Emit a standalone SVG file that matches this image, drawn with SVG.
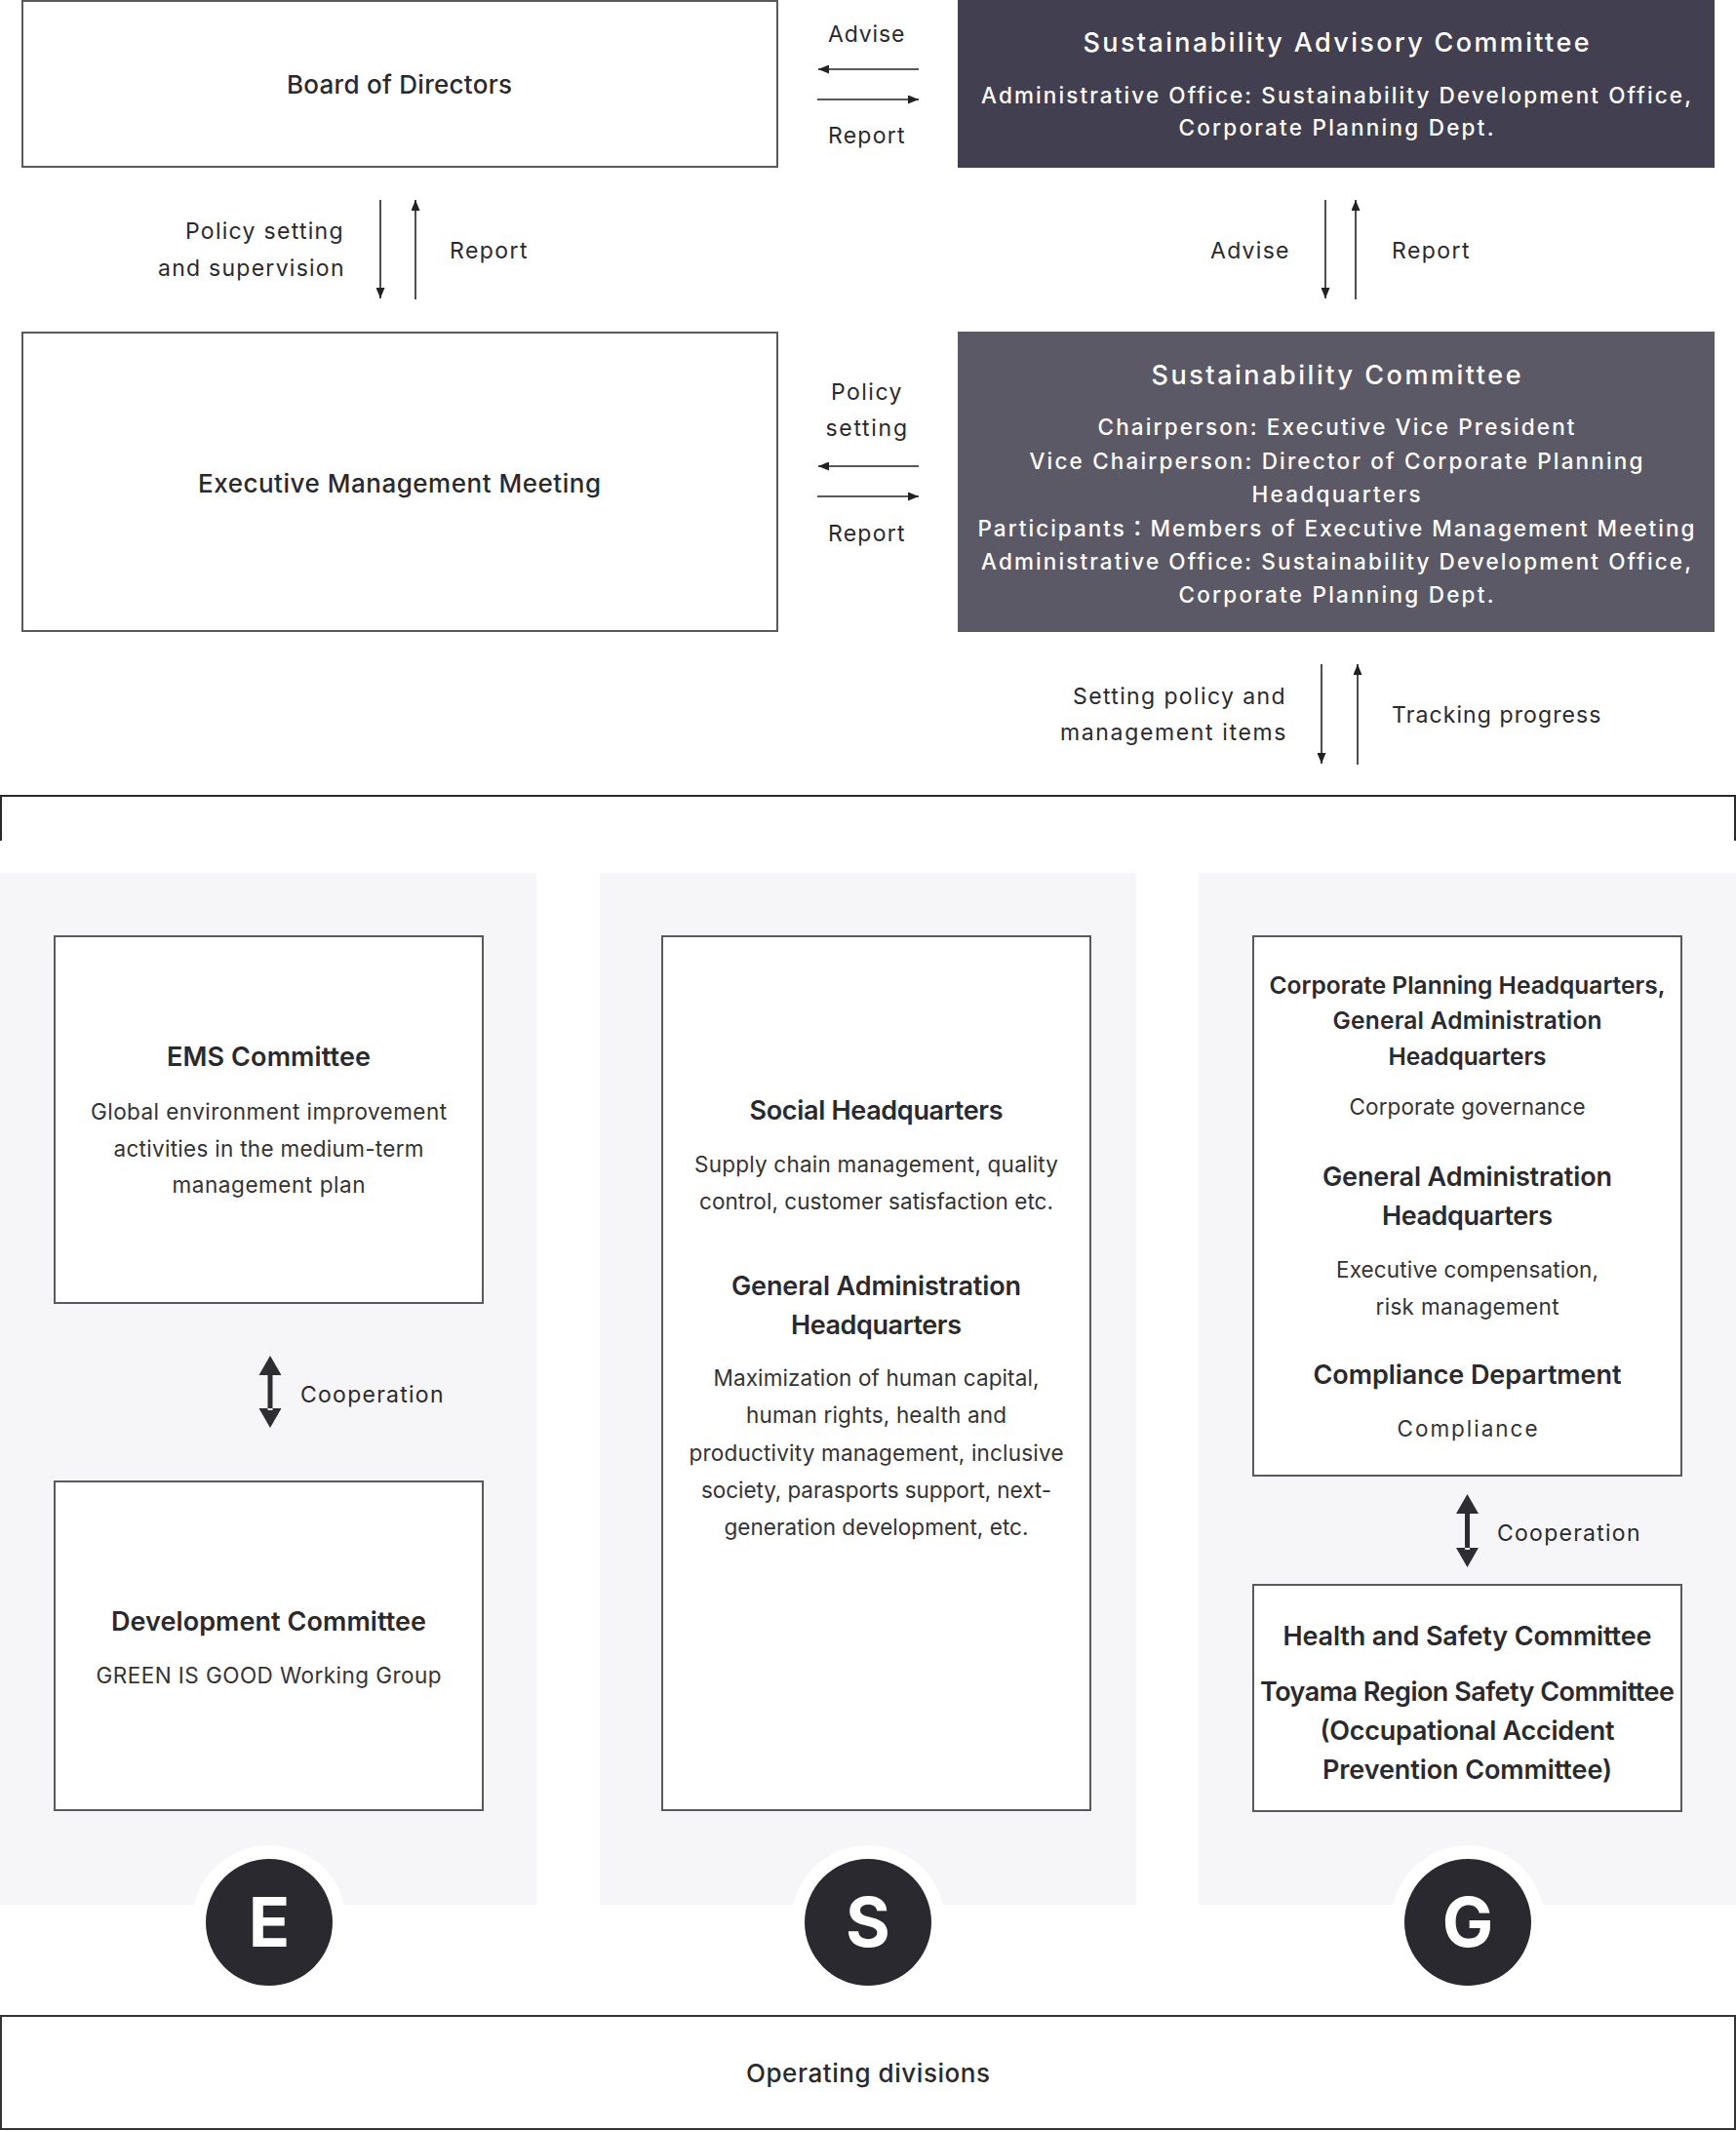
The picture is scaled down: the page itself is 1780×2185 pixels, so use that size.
<svg xmlns="http://www.w3.org/2000/svg" width="1780" height="2185" viewBox="0 0 1780 2185">
<style>
text{font-family:Inter,"Liberation Sans","Noto Sans CJK JP",sans-serif;fill:#2a2a2e}
.lbl{font-size:23px;letter-spacing:1.5px;fill:#2a2a2e}
.mid{text-anchor:middle}
.end{text-anchor:end}
.box{fill:#fff;stroke:#5a5a5e;stroke-width:2}
.bt{font-size:26px;font-weight:500}
.dt{font-size:27px;font-weight:500;fill:#fff}
.db{font-size:22.5px;font-weight:500;fill:#fff}
.h{font-size:27px;font-weight:600}
.hs{font-size:24.5px;font-weight:600}
.b{font-size:22.5px;font-weight:400;fill:#333}
.panel{fill:#f6f6f8}
.ln{stroke:#222;stroke-width:1.6;fill:none}
.coop{fill:#2e2d33}
.circ{fill:#2a292f}
.let{font-size:70px;font-weight:700;fill:#fff;text-anchor:middle}
</style>
<defs>
<marker id="ah" markerUnits="userSpaceOnUse" markerWidth="11" markerHeight="9" refX="11" refY="4.5" orient="auto">
<path d="M0,0 L11,4.5 L0,9 Z" fill="#222"/>
</marker>
</defs>

<g id="panels">
<rect class="panel" x="0" y="895" width="550" height="1058"/>
<rect class="panel" x="615" y="895" width="550" height="1058"/>
<rect class="panel" x="1229" y="895" width="551" height="1058"/>
</g>

<g id="board">
<rect class="box" x="23" y="1" width="774" height="170"/>
<text class="bt mid" x="409.5" y="96" textLength="231">Board of Directors</text>
</g>

<g id="advisory">
<rect x="982" y="0" width="776" height="172" fill="#423f50"/>
<text class="dt mid" x="1370" y="53" textLength="519">Sustainability Advisory Committee</text>
<text class="db mid" x="1370" y="106" textLength="728">Administrative Office: Sustainability Development Office,</text>
<text class="db mid" x="1370" y="139" textLength="323">Corporate Planning Dept.</text>
</g>

<g id="exec">
<rect class="box" x="23" y="341" width="774" height="306"/>
<text class="bt mid" x="409.5" y="505" textLength="413">Executive Management Meeting</text>
</g>

<g id="committee">
<rect x="982" y="340" width="776" height="308" fill="#5b5966"/>
<text class="dt mid" x="1370" y="394" textLength="379">Sustainability Committee</text>
<text class="db mid" x="1370" y="446" textLength="489">Chairperson: Executive Vice President</text>
<text class="db mid" x="1370" y="480.5" textLength="629">Vice Chairperson: Director of Corporate Planning</text>
<text class="db mid" x="1370" y="515" textLength="173">Headquarters</text>
<text class="db mid" x="1370" y="549.5" textLength="735">Participants：Members of Executive Management Meeting</text>
<text class="db mid" x="1370" y="584" textLength="728">Administrative Office: Sustainability Development Office,</text>
<text class="db mid" x="1370" y="618" textLength="323">Corporate Planning Dept.</text>
</g>

<g id="ems">
<rect class="box" x="56" y="960" width="439" height="376"/>
<text class="h mid" x="275.5" y="1093" textLength="209">EMS Committee</text>
<text class="b mid" x="275.5" y="1148" textLength="365">Global environment improvement</text>
<text class="b mid" x="275.5" y="1185.5" textLength="318">activities in the medium-term</text>
<text class="b mid" x="275.5" y="1223" textLength="198">management plan</text>
</g>

<g id="development">
<rect class="box" x="56" y="1519" width="439" height="337"/>
<text class="h mid" x="275.5" y="1672" textLength="323">Development Committee</text>
<text class="b mid" x="275.5" y="1726" textLength="354">GREEN IS GOOD Working Group</text>
</g>

<g id="social">
<rect class="box" x="679" y="960" width="439" height="896"/>
<text class="h mid" x="898.5" y="1148" textLength="260">Social Headquarters</text>
<text class="b mid" x="898.5" y="1202" textLength="373">Supply chain management, quality</text>
<text class="b mid" x="898.5" y="1239.5" textLength="363">control, customer satisfaction etc.</text>
<text class="h mid" x="898.5" y="1328" textLength="297">General Administration</text>
<text class="h mid" x="898.5" y="1368" textLength="175">Headquarters</text>
<text class="b mid" x="898.5" y="1421" textLength="334">Maximization of human capital,</text>
<text class="b mid" x="898.5" y="1459.3" textLength="267">human rights, health and</text>
<text class="b mid" x="898.5" y="1497.6" textLength="384">productivity management, inclusive</text>
<text class="b mid" x="898.5" y="1536" textLength="359">society, parasports support, next-</text>
<text class="b mid" x="898.5" y="1574" textLength="312">generation development, etc.</text>
</g>

<g id="governance">
<rect class="box" x="1285" y="960" width="439" height="553"/>
<text class="hs mid" x="1504.5" y="1019" textLength="406">Corporate Planning Headquarters,</text>
<text class="hs mid" x="1504.5" y="1055.4" textLength="276">General Administration</text>
<text class="hs mid" x="1504.5" y="1091.7" textLength="162">Headquarters</text>
<text class="b mid" x="1504.5" y="1143" textLength="242">Corporate governance</text>
<text class="h mid" x="1504.5" y="1216" textLength="297">General Administration</text>
<text class="h mid" x="1504.5" y="1256" textLength="175">Headquarters</text>
<text class="b mid" x="1504.5" y="1310" textLength="269">Executive compensation,</text>
<text class="b mid" x="1504.5" y="1347.5" textLength="188">risk management</text>
<text class="h mid" x="1504.5" y="1419" textLength="316">Compliance Department</text>
<text class="b mid" x="1504.5" y="1473" textLength="144">Compliance</text>
</g>

<g id="safety">
<rect class="box" x="1285" y="1625" width="439" height="232"/>
<text class="h mid" x="1504.5" y="1687" textLength="378">Health and Safety Committee</text>
<text class="h mid" x="1504.5" y="1744" textLength="425">Toyama Region Safety Committee</text>
<text class="h mid" x="1504.5" y="1784" textLength="302">(Occupational Accident</text>
<text class="h mid" x="1504.5" y="1824" textLength="297">Prevention Committee)</text>
</g>

<g id="circle-e">
<circle cx="276" cy="1971" r="79" fill="#fff"/>
<circle class="circ" cx="276" cy="1971" r="65"/>
<text class="let" x="276" y="1996">E</text>
</g>
<g id="circle-s">
<circle cx="890" cy="1971" r="79" fill="#fff"/>
<circle class="circ" cx="890" cy="1971" r="65"/>
<text class="let" x="890" y="1996">S</text>
</g>
<g id="circle-g">
<circle cx="1505" cy="1971" r="79" fill="#fff"/>
<circle class="circ" cx="1505" cy="1971" r="65"/>
<text class="let" x="1505" y="1996">G</text>
</g>

<g id="operating">
<rect x="1" y="2067" width="1778" height="116" fill="#fff" stroke="#333" stroke-width="2"/>
<text class="bt mid" x="890" y="2135" textLength="250" font-weight="400">Operating divisions</text>
</g>

<g id="connectors">
<line class="ln" x1="942" y1="71" x2="839" y2="71" marker-end="url(#ah)"/>
<line class="ln" x1="838" y1="102" x2="942" y2="102" marker-end="url(#ah)"/>
<text class="lbl mid" x="889" y="43" textLength="80">Advise</text>
<text class="lbl mid" x="889" y="147" textLength="80">Report</text>

<line class="ln" x1="390" y1="205" x2="390" y2="306" marker-end="url(#ah)"/>
<line class="ln" x1="426" y1="307" x2="426" y2="205" marker-end="url(#ah)"/>
<text class="lbl end" x="353" y="245" textLength="163">Policy setting</text>
<text class="lbl end" x="354" y="283" textLength="192">and supervision</text>
<text class="lbl" x="461" y="265" textLength="81">Report</text>

<line class="ln" x1="1359" y1="205" x2="1359" y2="306" marker-end="url(#ah)"/>
<line class="ln" x1="1390" y1="307" x2="1390" y2="205" marker-end="url(#ah)"/>
<text class="lbl end" x="1323" y="265" textLength="82">Advise</text>
<text class="lbl" x="1427" y="265" textLength="81">Report</text>

<line class="ln" x1="942" y1="478" x2="839" y2="478" marker-end="url(#ah)"/>
<line class="ln" x1="838" y1="509" x2="942" y2="509" marker-end="url(#ah)"/>
<text class="lbl mid" x="889" y="410" textLength="74">Policy</text>
<text class="lbl mid" x="889" y="447" textLength="85">setting</text>
<text class="lbl mid" x="889" y="555" textLength="80">Report</text>

<line class="ln" x1="1355" y1="681" x2="1355" y2="783" marker-end="url(#ah)"/>
<line class="ln" x1="1392" y1="784" x2="1392" y2="681" marker-end="url(#ah)"/>
<text class="lbl end" x="1319" y="722" textLength="219">Setting policy and</text>
<text class="lbl end" x="1320" y="759" textLength="233">management items</text>
<text class="lbl" x="1427" y="741" textLength="216">Tracking progress</text>

<path d="M1,862 V816 H1779 V862" fill="none" stroke="#2a2a2a" stroke-width="2"/>

<path class="coop" d="M277,1390 L288.5,1410 L265.5,1410 Z M274.5,1408 H279.5 V1446 H274.5 Z M277,1464 L288.5,1444 L265.5,1444 Z"/>
<text class="lbl" x="308" y="1438" textLength="148">Cooperation</text>

<path class="coop" d="M1504.5,1532 L1516,1552 L1493,1552 Z M1502,1550 H1507 V1589 H1502 Z M1504.5,1607 L1516,1587 L1493,1587 Z"/>
<text class="lbl" x="1535" y="1580" textLength="148">Cooperation</text>
</g>
</svg>
